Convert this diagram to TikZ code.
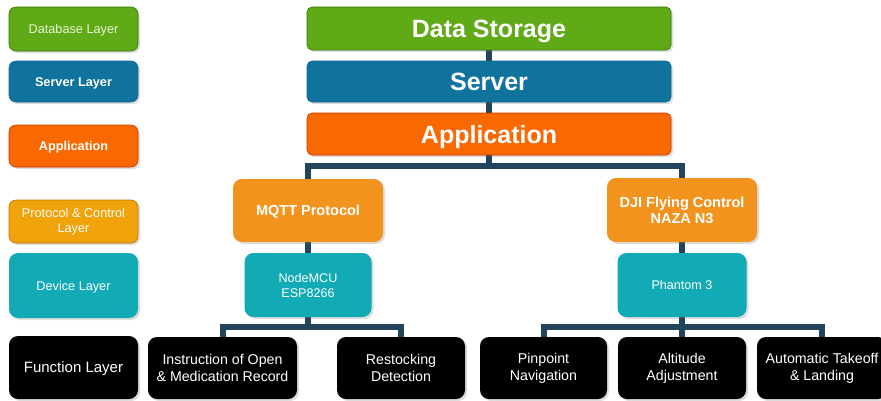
\documentclass[tikz,border=0pt]{standalone}
\usepackage{fontspec}
\setmainfont{Liberation Sans}
\usetikzlibrary{shadows}
\pgfdeclarelayer{bg}
\pgfsetlayers{bg,main}
\definecolor{cgreen}{HTML}{60A917}
\definecolor{cgreenS}{HTML}{2D7600}
\definecolor{cblue}{HTML}{10739E}
\definecolor{cblueS}{HTML}{0E6690}
\definecolor{corange}{HTML}{FA6800}
\definecolor{corangeS}{HTML}{C73500}
\definecolor{camber}{HTML}{F0A30A}
\definecolor{camberS}{HTML}{BD7000}
\definecolor{cmqtt}{HTML}{F2931E}
\definecolor{cteal}{HTML}{12AAB5}
\definecolor{cline}{HTML}{23445D}
\definecolor{cpale}{HTML}{E6F5D6}
\tikzset{
  box/.style={rounded corners=7pt, inner sep=0pt, align=center, text=white,
    drop shadow={shadow xshift=2pt, shadow yshift=-2pt, opacity=0.22, fill=black!60}},
  greenbox/.style={box, fill=cgreen, draw=cgreenS, line width=0.6pt},
  bluebox/.style={box, fill=cblue, draw=cblueS, line width=0.6pt},
  orangebox/.style={box, fill=corange, draw=corangeS, line width=0.6pt},
  amberbox/.style={box, fill=camber, draw=camberS, line width=0.6pt},
  mqttbox/.style={box, fill=cmqtt, rounded corners=9pt},
  tealbox/.style={box, fill=cteal, rounded corners=9pt},
  blackbox/.style={box, fill=black, rounded corners=9pt},
  oneline/.style={text height=#1, text depth=0pt},
  legfont/.style={font=\fontsize{12.7}{15}\selectfont},
  bigfont/.style={font=\fontsize{25}{30}\selectfont\bfseries},
  ctlfont/.style={font=\fontsize{14.5}{16}\selectfont\bfseries},
  devfont/.style={font=\fontsize{12.6}{15}\selectfont},
  funfont/.style={font=\fontsize{14.2}{17}\selectfont},
  conn/.style={draw=cline, line width=6pt, line join=miter}
}
\begin{document}
\begin{tikzpicture}[x=1pt,y=-1pt]
\useasboundingbox (0,0) rectangle (881,400);
% legend
\node[greenbox, legfont, oneline=9.1pt, text=cpale, minimum width=129pt, minimum height=44pt] (leg1) at (73.5,29) {Database Layer};
\node[bluebox, font=\fontsize{12.7}{15}\selectfont\bfseries, oneline=9.1pt, minimum width=129pt, minimum height=41pt] (leg2) at (73.5,81.5) {Server Layer};
\node[orangebox, font=\fontsize{12.7}{15}\selectfont\bfseries, oneline=9.1pt, minimum width=129pt, minimum height=42pt] (leg3) at (73.5,146) {Application};
\node[amberbox, legfont, minimum width=129pt, minimum height=43pt] (leg4) at (73.5,221.5) {Protocol \& Control\\Layer};
\node[tealbox, legfont, oneline=9.1pt, minimum width=129pt, minimum height=65pt] (leg5) at (73.5,285.5) {Device Layer};
\node[blackbox, font=\fontsize{15}{18}\selectfont, oneline=10.8pt, minimum width=129pt, minimum height=63pt] (leg6) at (73.5,367.5) {Function Layer};
% main stack
\node[greenbox, bigfont, oneline=18pt, rounded corners=5pt, minimum width=364pt, minimum height=43pt] (ds) at (489,28.5) {Data Storage};
\node[bluebox, bigfont, oneline=18pt, rounded corners=5pt, minimum width=364pt, minimum height=41pt] (srv) at (489,81.5) {Server};
\node[orangebox, bigfont, oneline=18pt, rounded corners=5pt, minimum width=364pt, minimum height=42pt] (app) at (489,134) {Application};
% control
\node[mqttbox, ctlfont, oneline=10.4pt, minimum width=150pt, minimum height=63pt] (mqtt) at (308,210.5) {MQTT Protocol};
\node[mqttbox, ctlfont, minimum width=150pt, minimum height=64pt] (dji) at (682,210) {DJI Flying Control\\NAZA N3};
% devices
\node[tealbox, devfont, minimum width=127pt, minimum height=64pt] (mcu) at (308,285) {NodeMCU\\ESP8266};
\node[tealbox, devfont, oneline=9pt, minimum width=129pt, minimum height=64pt] (ph) at (682,285) {Phantom 3};
% functions
\node[blackbox, funfont, minimum width=149pt, minimum height=62pt] (f1) at (222.5,368) {Instruction of Open\\\& Medication Record};
\node[blackbox, funfont, minimum width=128pt, minimum height=62pt] (f2) at (401,368) {Restocking\\Detection};
\node[blackbox, funfont, minimum width=127pt, minimum height=62pt] (f3) at (543.5,368) {Pinpoint\\Navigation};
\node[blackbox, funfont, minimum width=128pt, minimum height=62pt] (f4) at (682,368) {Altitude\\Adjustment};
\node[blackbox, funfont, minimum width=130pt, minimum height=62pt] (f5) at (822,368) {Automatic Takeoff\\\& Landing};
% connectors
\coordinate (bar1) at (489,166);
\coordinate (bar2) at (308,327);
\coordinate (bar3) at (682,327);
\begin{pgfonlayer}{bg}
\draw[conn] (ds.south) -- (srv.north);
\draw[conn] (srv.south) -- (app.north);
\draw[conn] (app.south) -- (bar1);
\draw[conn] (mqtt.north) |- (bar1) -| (dji.north);
\draw[conn] (mqtt.south) -- (mcu.north);
\draw[conn] (dji.south) -- (ph.north);
\draw[conn] (mcu.south) -- (bar2);
\draw[conn] (f1.north) |- (bar2) -| (f2.north);
\draw[conn] (ph.south) -- (bar3) -- (f4.north);
\draw[conn] (f3.north) |- (bar3) -| (f5.north);
\end{pgfonlayer}
\end{tikzpicture}
\end{document}
